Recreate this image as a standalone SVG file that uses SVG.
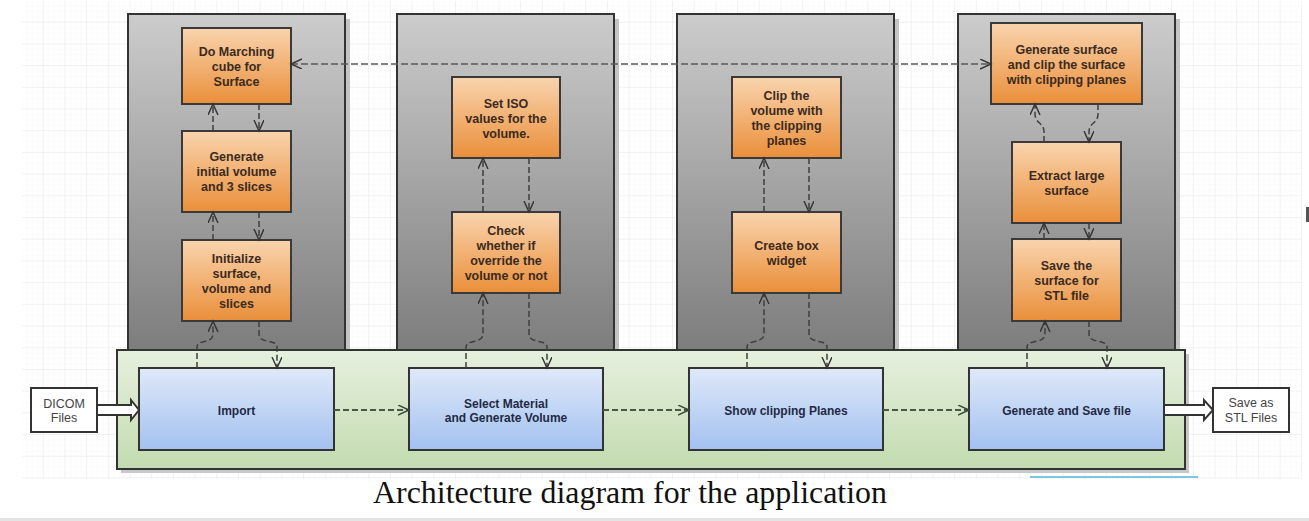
<svg xmlns="http://www.w3.org/2000/svg" width="1309" height="521" viewBox="0 0 1309 521">
<style>
.col{fill:url(#gGray);stroke:#333;stroke-width:2}
.shadow{fill:#c4c4c4}
.org{fill:url(#gOrange);stroke:#3a3a3a;stroke-width:2}
.blue{fill:url(#gBlue);stroke:#333;stroke-width:2}
.plain{fill:#fff;stroke:#333;stroke-width:2}
.ot{font-family:"Liberation Sans",Arial,sans-serif;font-weight:bold;font-size:12.5px;fill:#3b2a1e;text-anchor:middle}
.bt{font-family:"Liberation Sans",Arial,sans-serif;font-weight:bold;font-size:12px;fill:#1f2a44;text-anchor:middle}
.pt{font-family:"Liberation Sans",Arial,sans-serif;font-size:12.5px;fill:#444;text-anchor:middle}
.dash{fill:none;stroke:#3f3f3f;stroke-width:1.5;stroke-dasharray:6 3;marker-end:url(#arr)}
.dashg{fill:none;stroke:#4a5648;stroke-width:1.8;stroke-dasharray:6 3;marker-end:url(#arrg)}
.fat{fill:#fff;stroke:#333;stroke-width:2}
</style>
<defs>
<pattern id="gridMinor" width="5.43" height="5.43" patternUnits="userSpaceOnUse">
<path d="M5.43,0 V5.43 H0" fill="none" stroke="#f1f1f4" stroke-width="0.6"/>
</pattern>
<pattern id="gridMajor" x="22" y="1" width="21.7" height="21.7" patternUnits="userSpaceOnUse">
<rect width="21.7" height="21.7" fill="url(#gridMinor)"/>
<path d="M21.7,0 V21.7 H0" fill="none" stroke="#e2e2e8" stroke-width="0.8"/>
</pattern>
<linearGradient id="gGray" x1="0" y1="0" x2="0" y2="1">
<stop offset="0" stop-color="#cccccc"/>
<stop offset="1" stop-color="#7c7c7c"/>
</linearGradient>
<linearGradient id="gOrange" x1="0" y1="0" x2="0" y2="1">
<stop offset="0" stop-color="#f9d4ae"/>
<stop offset="1" stop-color="#ea8f3a"/>
</linearGradient>
<linearGradient id="gBlue" x1="0" y1="0" x2="0" y2="1">
<stop offset="0" stop-color="#dfe9f9"/>
<stop offset="1" stop-color="#a3c1f0"/>
</linearGradient>
<linearGradient id="gGreen" x1="0" y1="0" x2="0" y2="1">
<stop offset="0" stop-color="#e6f0de"/>
<stop offset="1" stop-color="#c3dbb0"/>
</linearGradient>
<marker id="arr" markerUnits="userSpaceOnUse" markerWidth="13" markerHeight="12" refX="11" refY="5" orient="auto-start-reverse">
<path d="M0,0 L11,5 L0,10" fill="none" stroke="#333" stroke-width="1.4"/>
</marker>
<marker id="arrg" markerUnits="userSpaceOnUse" markerWidth="13" markerHeight="12" refX="11" refY="5" orient="auto-start-reverse">
<path d="M0,0 L11,5 L0,10" fill="none" stroke="#3a4a38" stroke-width="1.5"/>
</marker>
</defs>

<rect width="1309" height="521" fill="#fff"/>
<rect x="22" y="1" width="1280" height="478" fill="url(#gridMajor)"/>
<rect x="0" y="518" width="1309" height="3" fill="#e4e4e4"/>
<rect x="1306" y="207" width="3" height="15" fill="#555"/>

<g id="columns">
<rect class="shadow" x="132" y="19" width="218" height="336"/>
<rect class="col" x="128" y="14" width="217" height="340"/>
<rect class="shadow" x="401" y="19" width="218" height="336"/>
<rect class="col" x="397" y="14" width="217" height="340"/>
<rect class="shadow" x="681" y="19" width="218" height="336"/>
<rect class="col" x="677" y="14" width="217" height="340"/>
<rect class="shadow" x="962" y="19" width="218" height="336"/>
<rect class="col" x="958" y="14" width="217" height="340"/>
</g>

<g id="main-container">
<rect x="121" y="354" width="1068" height="119" fill="#c8c8c8"/>
<rect x="117" y="350" width="1068" height="119" fill="url(#gGreen)" stroke="#333" stroke-width="2"/>
</g>

<g id="n-marching">
<rect class="org" x="182" y="28" width="109" height="76"/>
<text class="ot" x="236.5" y="55.5">Do Marching</text>
<text class="ot" x="236.5" y="70.5">cube for</text>
<text class="ot" x="236.5" y="85.5">Surface</text>
</g>
<g id="n-geninit">
<rect class="org" x="182" y="131" width="109" height="81"/>
<text class="ot" x="236.5" y="160.5">Generate</text>
<text class="ot" x="236.5" y="175.5">initial volume</text>
<text class="ot" x="236.5" y="190.5">and 3 slices</text>
</g>
<g id="n-init">
<rect class="org" x="182" y="240" width="109" height="81"/>
<text class="ot" x="236.5" y="262.5">Initialize</text>
<text class="ot" x="236.5" y="277.5">surface,</text>
<text class="ot" x="236.5" y="292.5">volume and</text>
<text class="ot" x="236.5" y="307.5">slices</text>
</g>

<g id="n-iso">
<rect class="org" x="452" y="77" width="108" height="81"/>
<text class="ot" x="506" y="107.5">Set ISO</text>
<text class="ot" x="506" y="122.5">values for the</text>
<text class="ot" x="506" y="137.5">volume.</text>
</g>
<g id="n-check">
<rect class="org" x="452" y="212" width="108" height="81"/>
<text class="ot" x="506" y="234.5">Check</text>
<text class="ot" x="506" y="249.5">whether if</text>
<text class="ot" x="506" y="264.5">override the</text>
<text class="ot" x="506" y="279.5">volume or not</text>
</g>

<g id="n-clip">
<rect class="org" x="732" y="77" width="109" height="81"/>
<text class="ot" x="786.5" y="99.5">Clip the</text>
<text class="ot" x="786.5" y="114.5">volume with</text>
<text class="ot" x="786.5" y="129.5">the clipping</text>
<text class="ot" x="786.5" y="144.5">planes</text>
</g>
<g id="n-box">
<rect class="org" x="732" y="212" width="109" height="81"/>
<text class="ot" x="786.5" y="249.5">Create box</text>
<text class="ot" x="786.5" y="264.5">widget</text>
</g>

<g id="n-gensurf">
<rect class="org" x="991" y="23" width="151" height="81"/>
<text class="ot" x="1066.5" y="53.5">Generate surface</text>
<text class="ot" x="1066.5" y="68.5">and clip the surface</text>
<text class="ot" x="1066.5" y="83.5">with clipping planes</text>
</g>
<g id="n-extract">
<rect class="org" x="1012" y="142" width="109" height="81"/>
<text class="ot" x="1066.5" y="180">Extract large</text>
<text class="ot" x="1066.5" y="195">surface</text>
</g>
<g id="n-savesurf">
<rect class="org" x="1012" y="239" width="109" height="82"/>
<text class="ot" x="1066.5" y="269.5">Save the</text>
<text class="ot" x="1066.5" y="284.5">surface for</text>
<text class="ot" x="1066.5" y="299.5">STL file</text>
</g>

<g id="n-import">
<rect class="blue" x="139" y="368" width="195" height="82"/>
<text class="bt" x="236.5" y="414.5">Import</text>
</g>
<g id="n-select">
<rect class="blue" x="409" y="368" width="194" height="82"/>
<text class="bt" x="506" y="407.5">Select Material</text>
<text class="bt" x="506" y="421.5">and Generate Volume</text>
</g>
<g id="n-show">
<rect class="blue" x="689" y="368" width="194" height="82"/>
<text class="bt" x="786" y="414.5">Show clipping Planes</text>
</g>
<g id="n-gensave">
<rect class="blue" x="969" y="368" width="195" height="82"/>
<text class="bt" x="1066.5" y="414.5">Generate and Save file</text>
</g>

<g id="n-dicom">
<rect class="plain" x="31" y="388" width="66" height="44"/>
<text class="pt" x="64" y="407.5">DICOM</text>
<text class="pt" x="64" y="421.5">Files</text>
</g>
<g id="n-stl">
<rect class="plain" x="1213" y="388" width="76" height="44"/>
<text class="pt" x="1251" y="407">Save as</text>
<text class="pt" x="1251" y="421.5">STL Files</text>
</g>

<g id="connectors">
<path class="dash" d="M213,131 V104"/>
<path class="dash" d="M259,104 V131"/>
<path class="dash" d="M213,240 V212"/>
<path class="dash" d="M259,212 V240"/>
<path class="dash" d="M197,368 V347 C197,339 213,344 213,334 V321"/>
<path class="dash" d="M259,321 V334 C259,344 277,339 277,347 V368"/>

<path class="dash" d="M483,212 V158"/>
<path class="dash" d="M529,158 V212"/>
<path class="dash" d="M466,368 V347 C466,339 483,344 483,334 V293"/>
<path class="dash" d="M529,293 V334 C529,344 547,339 547,347 V368"/>

<path class="dash" d="M764,212 V158"/>
<path class="dash" d="M809,158 V212"/>
<path class="dash" d="M747,368 V347 C747,339 764,344 764,334 V293"/>
<path class="dash" d="M809,293 V334 C809,344 827,339 827,347 V368"/>

<path class="dash" d="M1044,142 V132 C1044,122 1035,124 1035,114 V104"/>
<path class="dash" d="M1098,104 V114 C1098,124 1089,122 1089,132 V142"/>
<path class="dash" d="M1044,239 V223"/>
<path class="dash" d="M1089,223 V239"/>
<path class="dash" d="M1027,368 V347 C1027,339 1045,344 1045,334 V321"/>
<path class="dash" d="M1089,321 V334 C1089,344 1107,339 1107,347 V368"/>

<path class="dashg" d="M334,410 H409"/>
<path class="dashg" d="M603,410 H689"/>
<path class="dashg" d="M883,410 H969"/>

<path d="M291,64 H991" fill="none" stroke="#5a5a5a" stroke-width="1.6" stroke-dasharray="7 3" marker-start="url(#arr)" marker-end="url(#arr)"/>

<polygon class="fat" points="97,405 131,405 131,400 139,410 131,420 131,415 97,415"/>
<polygon class="fat" points="1164,405 1204,405 1204,400 1213,410 1204,420 1204,415 1164,415"/>
</g>

<line x1="1030" y1="477" x2="1198" y2="477" stroke="#7cc7e0" stroke-width="2"/>
<text x="630" y="503" font-family="Liberation Serif,'Times New Roman',serif" font-size="31" fill="#111" text-anchor="middle" textLength="514" lengthAdjust="spacingAndGlyphs">Architecture diagram for the application</text>
</svg>
